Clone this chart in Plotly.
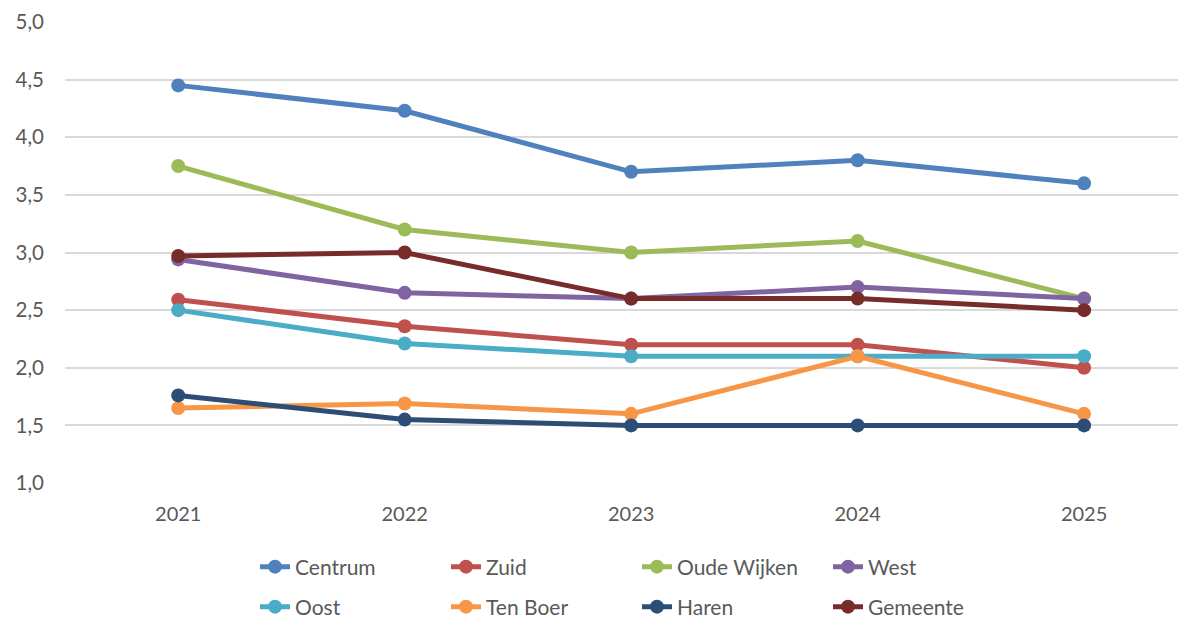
import plotly.graph_objects as go

years = ["2021", "2022", "2023", "2024", "2025"]
centrum = [4.45, 4.23, 3.70, 3.80, 3.60]
zuid = [2.59, 2.36, 2.20, 2.20, 2.00]
oude_wijken = [3.75, 3.20, 3.00, 3.10, 2.60]
west = [2.94, 2.65, 2.60, 2.70, 2.60]
oost = [2.50, 2.21, 2.10, 2.10, 2.10]
ten_boer = [1.65, 1.69, 1.60, 2.10, 1.60]
haren = [1.76, 1.55, 1.50, 1.50, 1.50]
gemeente = [2.97, 3.00, 2.60, 2.60, 2.50]

series = [
    ("Centrum", centrum, "#4F81BD", "legend"),
    ("Zuid", zuid, "#C0504D", "legend"),
    ("Oude Wijken", oude_wijken, "#9BBB59", "legend"),
    ("West", west, "#8064A2", "legend"),
    ("Oost", oost, "#4BACC6", "legend2"),
    ("Ten Boer", ten_boer, "#F79646", "legend2"),
    ("Haren", haren, "#2C4D75", "legend2"),
    ("Gemeente", gemeente, "#772C2A", "legend2"),
]

FONT = "Lato, 'Open Sans', sans-serif"
TXT = "#595959"

# page body has an 8px margin, so the figure is sized/offset accordingly
W, H = 1178, 615

fig = go.Figure()
for name, vals, col, lg in series:
    fig.add_trace(go.Scatter(
        x=years, y=vals, name=name, mode="lines+markers",
        line=dict(color=col, width=5),
        marker=dict(color=col, size=14),
        legend=lg,
    ))

leg_common = dict(
    orientation="h", xref="container", yref="container",
    x=247 / W, xanchor="left", yanchor="middle",
    entrywidth=146, entrywidthmode="pixels",
    font=dict(family=FONT, size=21, color=TXT),
    bgcolor="rgba(0,0,0,0)", borderwidth=0,
)

fig.update_layout(
    width=W, height=H,
    margin=dict(l=57, r=0, t=14, b=140),
    paper_bgcolor="white", plot_bgcolor="white",
    separators=",.",
    font=dict(family=FONT, size=20, color=TXT),
    showlegend=True,
    legend=dict(leg_common, y=56 / H),
    legend2=dict(leg_common, y=16 / H),
    xaxis=dict(
        type="category", range=[-0.5, 4.45], automargin=False,
        showgrid=False, showline=False, zeroline=False,
        ticks="", ticklabelstandoff=17,
        tickfont=dict(family=FONT, size=20, color=TXT),
    ),
    yaxis=dict(
        range=[1.0, 5.0], dtick=0.5, tick0=1.0, tickformat=".1f",
        automargin=False,
        showgrid=True, gridcolor="#D9D9D9", gridwidth=1.5,
        showline=False, zeroline=False, ticks="",
        ticklabelstandoff=20,
        tickfont=dict(family=FONT, size=20.5, color=TXT),
    ),
)

fig.write_html("out.html")
